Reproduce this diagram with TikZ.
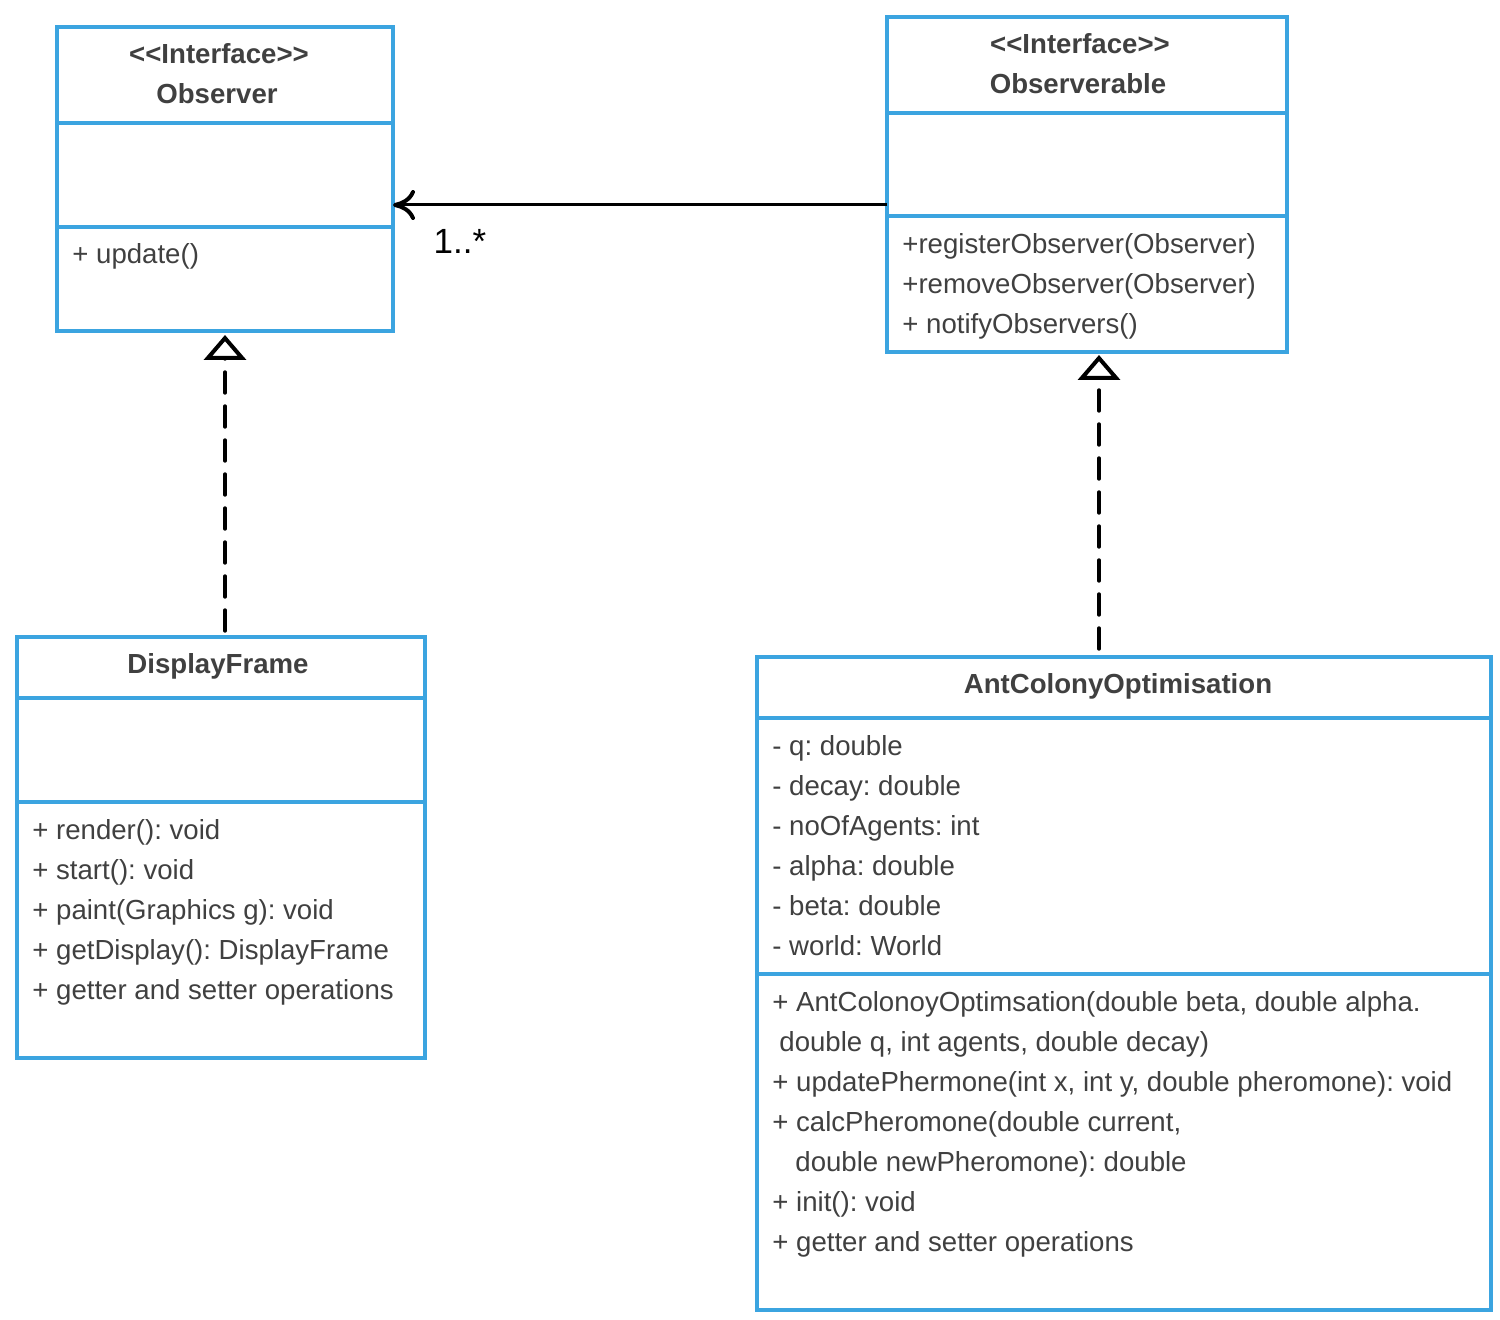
\documentclass[tikz,border=0pt]{standalone}
\usepackage{fontspec}
\setmainfont{Liberation Sans}
\usetikzlibrary{arrows.meta}
\definecolor{umlblue}{RGB}{59,164,224}
\definecolor{txt}{RGB}{64,64,64}
\frenchspacing
\begin{document}
\begin{tikzpicture}[x=0.5pt,y=-0.5pt,
  box/.style={draw=umlblue, line width=2pt, anchor=north west, inner sep=0pt, outer sep=0pt},
  sep/.style={draw=umlblue, line width=2pt},
  lbl/.style={anchor=mid west, inner sep=0pt, text=txt, font=\fontsize{13.8}{16}\selectfont},
  ttl/.style={anchor=mid, inner sep=0pt, text=txt, font=\fontsize{13.8}{16}\selectfont\bfseries},
  real/.style={line width=1.7pt, line cap=round, dash pattern=on 10.5pt off 6.5pt, -{Triangle[open, length=12.5pt, width=21pt, line width=2pt, line cap=butt]}},
]
\useasboundingbox (0,0) rectangle (1500,1320);

% boxes
\node[box, minimum width=168pt, minimum height=152pt] (obs) at (57,27) {};
\node[box, minimum width=200pt, minimum height=167.5pt] (obsable) at (887,17) {};
\node[box, minimum width=204pt, minimum height=210.5pt] (df) at (17,637) {};
\node[box, minimum width=367pt, minimum height=326.5pt] (aco) at (757,657) {};

% compartments
\draw[sep] (57,123) -- (393,123);
\draw[sep] (57,227) -- (393,227);
\draw[sep] (887,113) -- (1287,113);
\draw[sep] (887,216) -- (1287,216);
\draw[sep] (17,698) -- (425,698);
\draw[sep] (17,802) -- (425,802);
\draw[sep] (757,718) -- (1491,718);
\draw[sep] (757,974) -- (1491,974);

% Observer
\node[ttl] (obsst) at (219,58) {<{}<Interface>{}>};
\node[ttl] (obsname) at (217,98) {Observer};
\node[lbl] (obsm1) at (72,258) {+ update()};

% Observerable
\node[ttl] (oblst) at (1080,48) {<{}<Interface>{}>};
\node[ttl] (oblname) at (1078,88) {Observerable};
\node[lbl] (oblm1) at (902,248) {+registerObserver(Observer)};
\node[lbl] (oblm2) at (902,288) {+removeObserver(Observer)};
\node[lbl] (oblm3) at (902,328) {+ notifyObservers()};

% DisplayFrame
\node[ttl] (dfname) at (218,668) {DisplayFrame};
\node[lbl] (dfm1) at (32,834) {+ render(): void};
\node[lbl] (dfm2) at (32,874) {+ start(): void};
\node[lbl] (dfm3) at (32,914) {+ paint(Graphics g): void};
\node[lbl] (dfm4) at (32,954) {+ getDisplay(): DisplayFrame};
\node[lbl] (dfm5) at (32,994) {+ getter and setter operations};

% AntColonyOptimisation
\node[ttl] (aconame) at (1118,688) {AntColonyOptimisation};
\node[lbl] (acoa1) at (772,750) {- q: double};
\node[lbl] (acoa2) at (772,790) {- decay: double};
\node[lbl] (acoa3) at (772,830) {- noOfAgents: int};
\node[lbl] (acoa4) at (772,870) {- alpha: double};
\node[lbl] (acoa5) at (772,910) {- beta: double};
\node[lbl] (acoa6) at (772,950) {- world: World};
\node[lbl] (acom1) at (772,1006) {+ AntColonoyOptimsation(double beta, double alpha.};
\node[lbl] (acom1b) at (779,1046) {double q, int agents, double decay)};
\node[lbl] (acom2) at (772,1086) {+ updatePhermone(int x, int y, double pheromone): void};
\node[lbl] (acom3) at (772,1126) {+ calcPheromone(double current,};
\node[lbl] (acom3b) at (795,1166) {double newPheromone): double};
\node[lbl] (acom4) at (772,1206) {+ init(): void};
\node[lbl] (acom5) at (772,1246) {+ getter and setter operations};

% association
\coordinate (ay) at (0,205);
\draw[line width=1.5pt, -{Computer Modern Rightarrow[length=11pt, width=15pt, line width=2pt]}] (obsable.west |- ay) -- (obs.east |- ay);
\node[anchor=mid, inner sep=0pt, font=\fontsize{17.5}{20}\selectfont] (mult) at (460,248) {1..*};

% realizations
\coordinate (lx) at (225,0);
\coordinate (rx) at (1099,0);
\draw[real, shorten <=3pt, shorten >=2pt] (lx |- df.north) -- (lx |- obs.south);
\draw[real, shorten <=4pt, shorten >=1.5pt] (rx |- aco.north) -- (rx |- obsable.south);
\end{tikzpicture}
\end{document}
